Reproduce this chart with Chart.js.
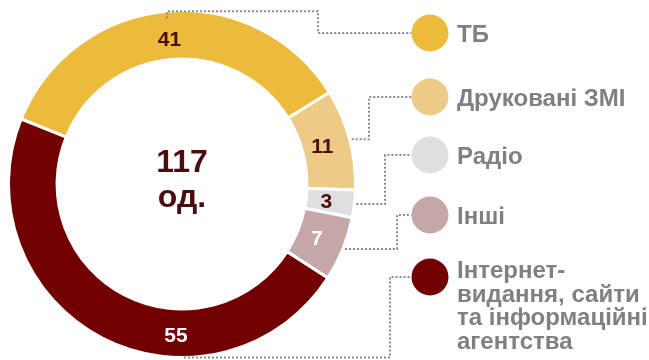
<!DOCTYPE html>
<html lang="uk">

<head>
    <meta charset="utf-8" />
    <title>Згадки за типом медіа</title>
    <script src="https://cdn.jsdelivr.net/npm/chart.js@4"></script>
    <style>
        html, body { margin: 0; padding: 0; background: #fff; }
        #wrap { width: 649px; height: 360px; position: relative; }
    </style>
</head>

<body>
    <div id="wrap">
        <canvas id="chart-media"></canvas>
    </div>
</body>

<script>
    const categories = ['ТБ', 'Друковані ЗМІ', 'Радіо', 'Інші', 'Інтернет-видання, сайти та інформаційні агентства'];
    const legendLines = [['ТБ'], ['Друковані ЗМІ'], ['Радіо'], ['Інші'], ['Інтернет-', 'видання, сайти', 'та інформаційні', 'агентства']];
    const values = [41, 11, 3, 7, 55];
    const unitLabel = 'од.';

    const colors = ['#edbb3b', '#edca85', '#e1dee1', '#c5a7a8', '#720000'];
    const valueColors = ['#4a0c0c', '#4a0c0c', '#4a0c0c', '#ffffff', '#ffffff'];

    const FONT = '"Liberation Sans", Arial, sans-serif';

    // value labels inside the ring (null = middle of the slice)
    const labelAngles = [null, null, null, null, Math.PI / 2 + 0.04];
    const labelDepth = [0.42, 0.42, 0.42, 0.42, 0.55];

    const valueLabels = {
        id: 'valueLabels',
        afterDatasetsDraw(chart) {
            const ctx = chart.ctx;
            const meta = chart.getDatasetMeta(0);
            ctx.save();
            ctx.font = 'bold 21px ' + FONT;
            ctx.textAlign = 'center';
            ctx.textBaseline = 'middle';
            meta.data.forEach((arc, i) => {
                const p = arc.getProps(['x', 'y', 'startAngle', 'endAngle', 'innerRadius', 'outerRadius'], true);
                let a = (p.startAngle + p.endAngle) / 2;
                if (labelAngles[i] !== null) a = labelAngles[i];
                const r = p.innerRadius + (p.outerRadius - p.innerRadius) * labelDepth[i];
                ctx.fillStyle = valueColors[i];
                ctx.fillText(String(values[i]), p.x + r * Math.cos(a), p.y + r * Math.sin(a) + 1);
            });
            // total in the middle
            const c = meta.data[0];
            const total = values.reduce((s, v) => s + v, 0);
            ctx.fillStyle = '#4a0c0c';
            ctx.font = 'bold 32px ' + FONT;
            ctx.fillText(String(total), c.x, c.y - 21);
            ctx.fillText(unitLabel, c.x, c.y + 14);
            ctx.restore();
        }
    };

    // legend on the right with dotted leader lines to the ring
    const sideLegend = {
        id: 'sideLegend',
        afterDraw(chart, args, opts) {
            const ctx = chart.ctx;
            const meta = chart.getDatasetMeta(0);
            ctx.save();
            meta.data.forEach((arc, i) => {
                const p = arc.getProps(['x', 'y', 'startAngle', 'endAngle', 'outerRadius'], true);
                let a = (p.startAngle + p.endAngle) / 2;
                if (opts.anchorAngles[i] !== null) a = opts.anchorAngles[i];
                const ax = p.x + p.outerRadius * Math.cos(a);
                const ay = p.y + p.outerRadius * Math.sin(a);
                const ly = opts.rows[i];
                const ex = opts.elbows[i];

                ctx.strokeStyle = '#8a8a8a';
                ctx.lineWidth = 2;
                ctx.setLineDash([2, 2]);
                ctx.beginPath();
                if (opts.ticks[i]) {
                    // short drop into the slice before the leader turns
                    ctx.moveTo(ax, ay + opts.ticks[i]);
                    ctx.lineTo(ax, ay);
                } else {
                    ctx.moveTo(ax + 2, ay);
                }
                ctx.lineTo(ex, ay);
                ctx.lineTo(ex, ly);
                ctx.lineTo(opts.dotX - opts.dotR, ly);
                ctx.stroke();
                ctx.setLineDash([]);

                ctx.fillStyle = colors[i];
                ctx.beginPath();
                ctx.arc(opts.dotX, ly, opts.dotR, 0, Math.PI * 2);
                ctx.fill();

                ctx.fillStyle = '#808080';
                ctx.font = 'bold 24px ' + FONT;
                ctx.textAlign = 'left';
                ctx.textBaseline = 'alphabetic';
                const lines = legendLines[i];
                const lh = 23.5;
                const first = lines.length > 1 ? ly + 1 : ly + 9;
                lines.forEach((t, k) => ctx.fillText(t, opts.textX, first + k * lh));
            });
            ctx.restore();
        }
    };

    new Chart(document.getElementById('chart-media'), {
        type: 'doughnut',
        data: {
            labels: categories,
            datasets: [{
                data: values,
                backgroundColor: colors,
                borderColor: '#ffffff',
                borderWidth: 3,
                hoverOffset: 0
            }]
        },
        options: {
            responsive: true,
            maintainAspectRatio: false,
            animation: false,
            rotation: -68,
            cutout: '72%',
            layout: { padding: { left: 7, top: 9, bottom: 1, right: 292 } },
            plugins: {
                legend: { display: false },
                tooltip: { enabled: false },
                sideLegend: {
                    rows: [33, 97, 155, 215, 277],
                    elbows: [318, 369, 385, 397, 390],
                    anchorAngles: [null, null, null, null, Math.PI / 2],
                    ticks: [7, 0, 0, 0, 0],
                    dotX: 430,
                    dotR: 18.5,
                    textX: 457
                }
            }
        },
        plugins: [valueLabels, sideLegend]
    });
</script>

</html>
